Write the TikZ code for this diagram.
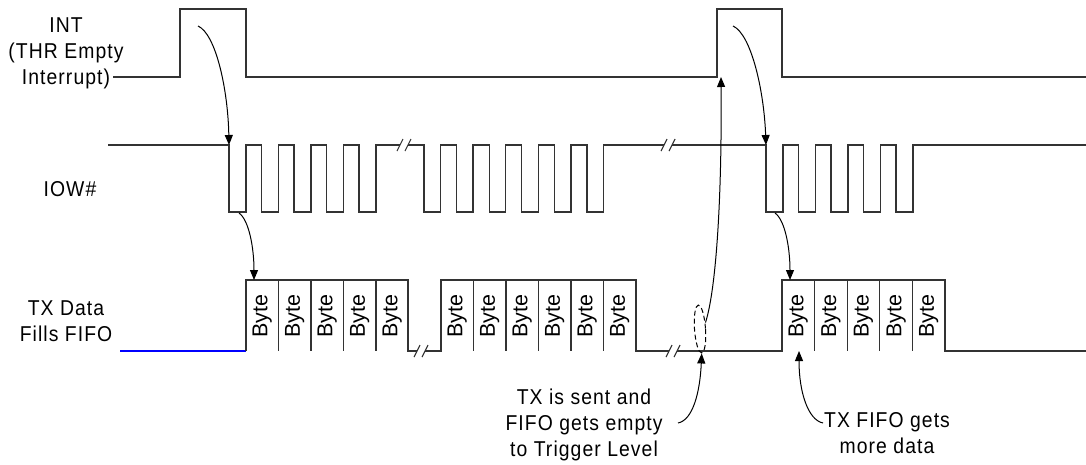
\documentclass[tikz,border=0pt]{standalone}
\usepackage{fontspec}
\setmainfont{Liberation Sans}
\newfontfamily\lblfont[FakeStretch=0.9,LetterSpace=5]{Liberation Sans}
\usetikzlibrary{arrows.meta,shapes.geometric}
\tikzset{
  sig/.style={line width=1.3pt, draw=black!80, line join=miter},
  fifoline/.style={line width=1.6pt, draw=blue},
  divider/.style={line width=1.1pt, draw=black!80},
  conn/.style={line width=1pt, draw=black, -{Triangle[length=10pt,width=8pt]}},
  lbl/.style={font=\lblfont\fontsize{21.5}{26}\selectfont, align=center, inner sep=0pt},
  bytelbl/.style={font=\fontsize{21.5}{24}\selectfont, rotate=90, inner sep=0pt},
  brkmark/.pic={\draw[line width=1.1pt, draw=black!80] (-7,6) -- (-1,-6) (1,6) -- (7,-6);},
  lvlmark/.style={draw, dashed, dash pattern=on 5pt off 3pt, line width=1pt, ellipse, minimum width=11pt, minimum height=48pt, inner sep=0pt, rotate=4}
}
\begin{document}
\begin{tikzpicture}[x=1pt,y=-1pt]
\useasboundingbox (0,0) rectangle (1086,464);

% ---------- labels ----------
\node[lbl] (lint) at (66,53) {INT\\(THR Empty\\Interrupt)};
\node[lbl] (liow) at (70,189) {IOW\#};
\node[lbl] (ltx) at (66,321) {TX Data\\Fills FIFO};
\node[lbl] (tsent) at (584,425) {TX is sent and\\FIFO gets empty\\to Trigger Level};
\node[lbl] (tmore) at (887,433) {TX FIFO gets\\more data};

% ---------- INT ----------
\draw[sig] (113,77) -- (180,77) -- (180,9) -- (246,9) -- (246,77) -- (717,77) -- (717,9) -- (782,9) -- (782,77) -- (1086,77);

% ---------- IOW# ----------
\draw[sig] (108,145)
  foreach \s in {229,261.5,294,326.5,359} { -- (\s,145) -- (\s,212) -- (\s+17,212) -- (\s+17,145) }
  -- (400,145);
\pic at (404,145) {brkmark};
\draw[sig] (408,145)
  foreach \s in {424,456.6,489.2,521.8,554.4,587} { -- (\s,145) -- (\s,212) -- (\s+16.5,212) -- (\s+16.5,145) }
  -- (664,145);
\pic at (668,145) {brkmark};
\draw[sig] (672,145)
  foreach \s in {766,798.5,831,863.5,896} { -- (\s,145) -- (\s,212) -- (\s+17,212) -- (\s+17,145) }
  -- (1086,145);

% ---------- TX data ----------
\draw[fifoline] (120,351) -- (246,351);
\draw[sig] (246,351) -- (246,280) -- (408,280) -- (408,351) -- (417,351);
\pic at (421,351) {brkmark};
\draw[sig] (425,351) -- (441,351) -- (441,280) -- (636,280) -- (636,351) -- (669,351);
\pic at (673,351) {brkmark};
\draw[sig] (677,351) -- (782,351) -- (782,280) -- (945,280) -- (945,351) -- (1086,351);
\foreach \x in {278.5,311,343.5,376, 473.5,506,538.5,571,603.5, 814.6,847.2,879.8,912.4}
  \draw[divider] (\x,280) -- (\x,351);

% Byte cells
\foreach \x [count=\i] in {262.2,294.7,327.2,359.7,392.2, 457.2,489.7,522.2,554.7,587.2,619.7, 798.3,830.9,863.5,896.1,928.7}
  \node[bytelbl] (b\i) at (\x,316) {Byte};

% trigger-level mark
\node[lvlmark] (lvl) at (700,329) {};

% ---------- connectors ----------
\coordinate (a1s) at (198,26);   \coordinate (a1e) at (229,145);
\coordinate (a2s) at (239,213);  \coordinate (a2e) at (254,280);
\coordinate (a3s) at (733,26);   \coordinate (a3e) at (766,145);
\coordinate (a4s) at (775,213);  \coordinate (a4e) at (790,280);
\coordinate (a5e) at (721,77);
\coordinate (a6s) at (678,423);
\coordinate (a7s) at (823,423);  \coordinate (a7e) at (799,351);

\draw[conn] (a1s) .. controls (216,34) and (228,90) .. (a1e);
\draw[conn] (a2s) .. controls (249,220) and (254,248) .. (a2e);
\draw[conn] (a3s) .. controls (751,34) and (764,90) .. (a3e);
\draw[conn] (a4s) .. controls (785,220) and (790,248) .. (a4e);
\draw[conn] ([shift={(-0.5,-6)}]lvl.east) .. controls (716,290) and (722,200) .. (a5e);
\draw[conn] (a6s) .. controls (693,420) and (700,392) .. (lvl.south);
\draw[conn] (a7s) .. controls (808,420) and (799,392) .. (a7e);
\end{tikzpicture}
\end{document}
